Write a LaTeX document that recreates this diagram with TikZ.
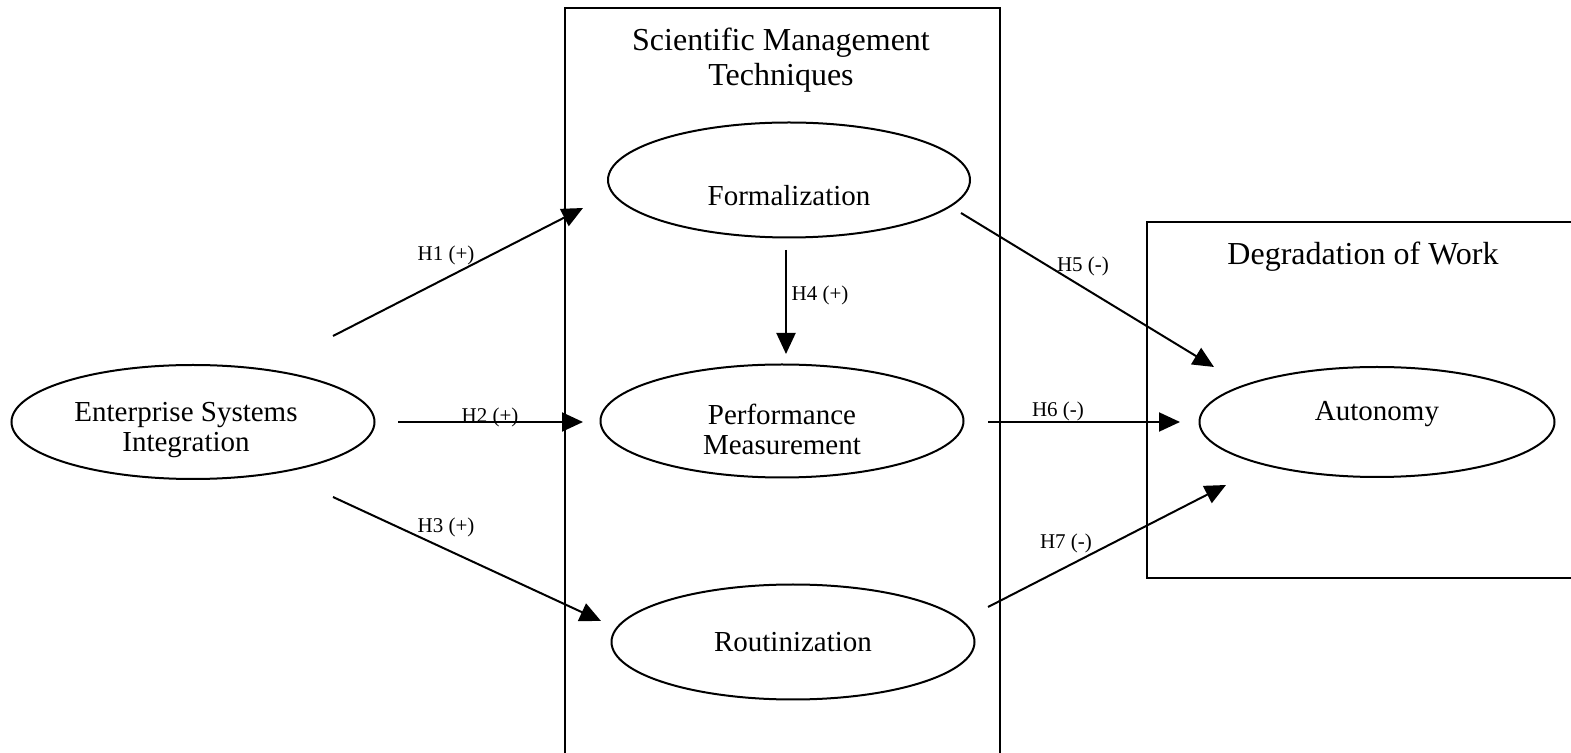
\documentclass[tikz,border=0pt]{standalone}
\usepackage{fontspec}
\setmainfont{Liberation Serif}
\usetikzlibrary{shapes.geometric,arrows.meta}
\begin{document}
\begin{tikzpicture}[x=0.5pt,y=-0.5pt,
  oval/.style={draw,ellipse,line width=1pt,inner sep=0pt},
  grp/.style={draw,line width=0.7pt},
  conn/.style={line width=1pt,-{Triangle[length=10.5pt,width=9.5pt]}},
  hlab/.style={font=\fontsize{10.5pt}{12pt}\selectfont,inner sep=0pt},
  otext/.style={font=\fontsize{14.5pt}{15pt}\selectfont,align=center,inner sep=0pt},
  gtitle/.style={font=\fontsize{16pt}{17.5pt}\selectfont,align=center,inner sep=0pt}]
\useasboundingbox (0,0) rectangle (1571,753);
% group boxes
\draw[grp] (565,760) -- (565,8) -- (1000,8) -- (1000,760);
\draw[grp] (1580,222) -- (1147,222) -- (1147,578) -- (1580,578);
\node[gtitle] (smt) at (781,60) {Scientific Management\\Techniques};
\node[gtitle] (dow) at (1363,257) {Degradation of Work};
% ellipses
\node[oval,minimum width=181.5pt,minimum height=57pt] (esi) at (193,422) {};
\node[otext] (esit) at (186,430) {Enterprise Systems\\Integration};
\node[oval,minimum width=181pt,minimum height=57.5pt] (form) at (789,180) {};
\node[otext] (formt) at (789,196) {Formalization};
\node[oval,minimum width=181.5pt,minimum height=56.5pt] (perf) at (782,421) {};
\node[otext] (perft) at (782,429) {Performance\\Measurement};
\node[oval,minimum width=181.5pt,minimum height=57.5pt] (rout) at (793,642) {};
\node[otext] (routt) at (793,642) {Routinization};
\node[oval,minimum width=177.5pt,minimum height=55pt] (auto) at (1377,422) {};
\node[otext] (autot) at (1377,414) {Autonomy};
% connector endpoints
\coordinate (h1s) at (333,336); \coordinate (h1e) at (583,208);
\coordinate (h2s) at (398,422); \coordinate (h2e) at (583,422);
\coordinate (h3s) at (333,497); \coordinate (h3e) at (601,621);
\coordinate (h4s) at (786,250); \coordinate (h4e) at (786,354);
\coordinate (h5s) at (961,213); \coordinate (h5e) at (1214,367);
\coordinate (h6s) at (988,422); \coordinate (h6e) at (1180,422);
\coordinate (h7s) at (988,607); \coordinate (h7e) at (1226,485);
\draw[conn] (h1s) -- (h1e);
\draw[conn] (h2s) -- (h2e);
\draw[conn] (h3s) -- (h3e);
\draw[conn] (h4s) -- (h4e);
\draw[conn] (h5s) -- (h5e);
\draw[conn] (h6s) -- (h6e);
\draw[conn] (h7s) -- (h7e);
% labels
\node[hlab] (l1) at (446,255) {H1 (+)};
\node[hlab] (l2) at (490,417) {H2 (+)};
\node[hlab] (l3) at (446,527) {H3 (+)};
\node[hlab] (l4) at (820,295) {H4 (+)};
\node[hlab] (l5) at (1083,266) {H5 (-)};
\node[hlab] (l6) at (1058,411) {H6 (-)};
\node[hlab] (l7) at (1066,543) {H7 (-)};
\end{tikzpicture}
\end{document}
